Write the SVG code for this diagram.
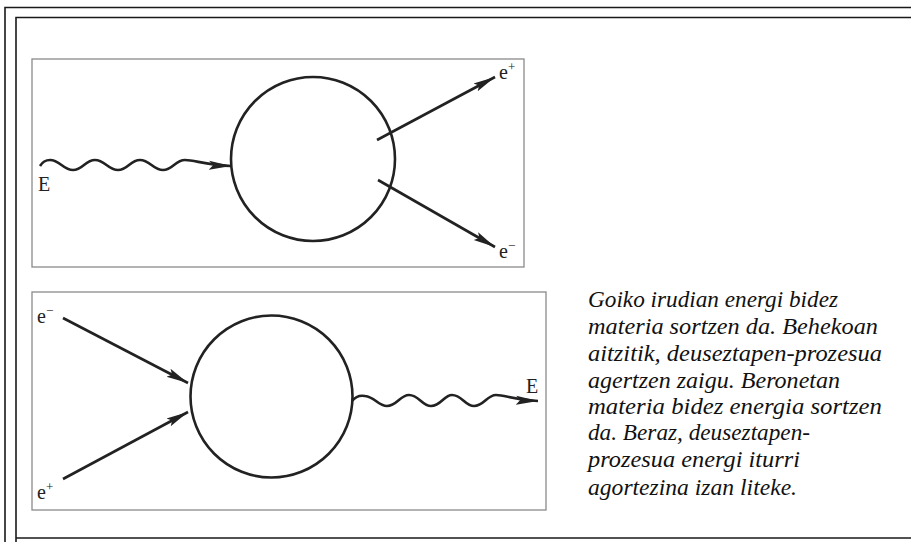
<svg xmlns="http://www.w3.org/2000/svg" width="911" height="542" viewBox="0 0 911 542">
<style>
.frame{fill:none;stroke:#1a1a1a;stroke-width:1.6}
.box{fill:#fff;stroke:#8a8a8a;stroke-width:1.3}
.ring{fill:none;stroke:#222;stroke-width:2.6}
.line{fill:none;stroke:#222;stroke-width:2.6}
.lbl{font-family:"Liberation Serif","Times New Roman",serif;font-size:20px;fill:#222}
.sup{font-size:13px}
.para{font-family:"Liberation Serif","Times New Roman",serif;font-style:italic;font-size:23px;fill:#111}
</style>
<defs>
<marker id="ah" markerUnits="userSpaceOnUse" markerWidth="24" markerHeight="12" refX="22" refY="6" orient="auto">
<path d="M0,1.5 L22,6 L0,10.5 L4,6 Z" fill="#222"/>
</marker>
</defs>
<rect width="911" height="542" fill="#fff"/>
<g id="frames">
<path class="frame" d="M5,545 V7.5 H915"/>
<path class="frame" d="M16,545 V538 H915 M16,538 V17.5 H915"/>
</g>
<g id="top-panel">
<rect class="box" x="32" y="59" width="492" height="208"/>
<g id="top-circle"><circle class="ring" cx="313" cy="159" r="82"/></g>
<g id="top-E"><text class="lbl" x="38" y="191">E</text></g>
<g id="top-eplus"><text class="lbl" x="499" y="79">e<tspan class="sup" dy="-8">+</tspan></text></g>
<g id="top-eminus"><text class="lbl" x="499" y="258">e<tspan class="sup" dy="-8">−</tspan></text></g>
</g>
<g id="bottom-panel">
<rect class="box" x="32" y="292" width="514" height="218"/>
<g id="bottom-circle"><circle class="ring" cx="271.5" cy="396.5" r="81"/></g>
<g id="bottom-eminus"><text class="lbl" x="37" y="323">e<tspan class="sup" dy="-8">−</tspan></text></g>
<g id="bottom-eplus"><text class="lbl" x="37" y="499">e<tspan class="sup" dy="-8">+</tspan></text></g>
<g id="bottom-E"><text class="lbl" x="526" y="393">E</text></g>
</g>
<g id="connectors">
<path class="line" marker-end="url(#ah)" d="M40,166 C43,161 46,160 50,160 C60,160 63,170 73,170 C83,170 85,160 95,160 C105,160 108,170 118,170 C128,170 130,160 140,160 C150,160 153,170 163,170 C173,170 175,160 185,160 C195,160 205,165 231,166"/>
<path class="line" marker-end="url(#ah)" d="M377,140 L495,77"/>
<path class="line" marker-end="url(#ah)" d="M378,180 L495,247"/>
<path class="line" marker-end="url(#ah)" d="M63,318 L188,383"/>
<path class="line" marker-end="url(#ah)" d="M63,479 L188,412"/>
<path class="line" marker-end="url(#ah)" d="M352,401 C356,396 360,395 365,396 C375,397 378,406 387,406 C397,406 400,395 409,395 C419,395 422,406 431,406 C441,406 444,395 452,395 C462,395 465,406 474,406 C484,406 487,395 496,395 C506,395 512,400 538,401"/>
</g>
<g id="caption">
<text class="para" x="588" y="307" textLength="250" lengthAdjust="spacingAndGlyphs">Goiko irudian energi bidez</text>
<text class="para" x="588" y="334" textLength="290" lengthAdjust="spacingAndGlyphs">materia sortzen da. Behekoan</text>
<text class="para" x="588" y="361" textLength="294" lengthAdjust="spacingAndGlyphs">aitzitik, deuseztapen-prozesua</text>
<text class="para" x="588" y="388" textLength="252" lengthAdjust="spacingAndGlyphs">agertzen zaigu. Beronetan</text>
<text class="para" x="588" y="414" textLength="294" lengthAdjust="spacingAndGlyphs">materia bidez energia sortzen</text>
<text class="para" x="588" y="440" textLength="222" lengthAdjust="spacingAndGlyphs">da. Beraz, deuseztapen-</text>
<text class="para" x="588" y="467" textLength="212" lengthAdjust="spacingAndGlyphs">prozesua energi iturri</text>
<text class="para" x="588" y="495" textLength="209" lengthAdjust="spacingAndGlyphs">agortezina izan liteke.</text>
</g>
</svg>
